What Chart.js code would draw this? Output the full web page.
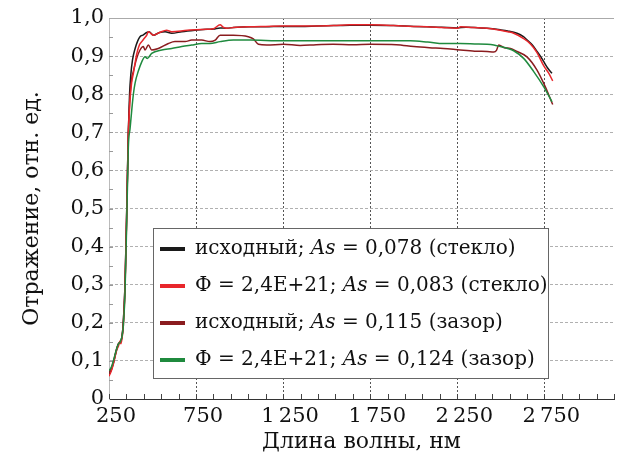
<!DOCTYPE html>
<html>
<head>
<meta charset="utf-8">
<script src="https://cdn.jsdelivr.net/npm/chart.js@4/dist/chart.umd.min.js"></script>
<style>
  body { margin: 0; background: #fff; }
  #wrap { width: 620px; height: 463px; position: relative; }
</style>
</head>
<body>
<div id="wrap"><canvas id="chart"></canvas></div>
<script>
const seriesLabels = [
  "исходный; As = 0,078 (стекло)",
  "Ф = 2,4E+21; As = 0,083 (стекло)",
  "исходный; As = 0,115 (зазор)",
  "Ф = 2,4E+21; As = 0,124 (зазор)",
];
const seriesColors = ["#1a1a1a", "#e8262b", "#8a1c1f", "#1f8a3e"];

// исходный, стекло
const wlBlack = [250, 262, 275, 294, 305, 315, 325, 332, 342, 352, 361, 368, 375, 385, 400, 415, 428, 445, 467, 480,
  505, 540, 572, 610, 668, 744, 790, 850, 888, 926, 964, 1060, 1150, 1242, 1350, 1444, 1540, 1635, 1750, 1884,
  2000, 2076, 2160, 2248, 2300, 2421, 2497, 2540, 2593, 2630, 2650, 2680, 2707, 2730, 2746, 2770, 2794];
const rBlack = [0.065, 0.075, 0.094, 0.13, 0.145, 0.148, 0.165, 0.2, 0.3, 0.5, 0.7, 0.8, 0.85, 0.89, 0.92, 0.94, 0.951, 0.955, 0.962, 0.964,
  0.955, 0.962, 0.964, 0.96, 0.964, 0.968, 0.97, 0.971, 0.974, 0.973, 0.975, 0.977, 0.977, 0.978, 0.978, 0.979, 0.98, 0.981, 0.981, 0.98,
  0.978, 0.977, 0.976, 0.974, 0.976, 0.973, 0.969, 0.966, 0.96, 0.951, 0.943, 0.93, 0.913, 0.898, 0.886, 0.868, 0.855];

// облучённый, стекло
const wlRed = [250, 262, 275, 294, 305, 313, 318, 325, 332, 342, 352, 361, 370, 380, 390, 409, 425, 438, 455, 467,
  476, 505, 540, 581, 610, 700, 790, 850, 888, 905, 926, 964, 1060, 1150, 1242, 1350, 1444, 1540, 1635, 1750,
  1884, 2000, 2076, 2160, 2248, 2270, 2340, 2421, 2497, 2540, 2574, 2631, 2670, 2707, 2746, 2775, 2798];
const rRed = [0.06, 0.072, 0.092, 0.128, 0.14, 0.152, 0.145, 0.16, 0.19, 0.29, 0.49, 0.69, 0.78, 0.83, 0.855, 0.905, 0.93, 0.938, 0.948, 0.955,
  0.964, 0.955, 0.962, 0.968, 0.964, 0.968, 0.97, 0.972, 0.982, 0.976, 0.973, 0.975, 0.977, 0.978, 0.979, 0.979, 0.979, 0.98, 0.982, 0.982,
  0.98, 0.978, 0.977, 0.975, 0.973, 0.977, 0.975, 0.973, 0.968, 0.964, 0.96, 0.946, 0.932, 0.91, 0.875, 0.855, 0.835];

// исходный, зазор
const wlBrown = [250, 262, 275, 294, 305, 315, 325, 332, 342, 352, 361, 370, 380, 390, 409, 428, 447, 457, 476, 495,
  533, 591, 629, 687, 725, 782, 830, 860, 888, 964, 1050, 1079, 1108, 1156, 1252, 1348, 1440, 1537, 1650, 1750,
  1900, 2000, 2090, 2171, 2267, 2350, 2421, 2460, 2475, 2488, 2520, 2555, 2593, 2650, 2707, 2755, 2798];
const rBrown = [0.07, 0.08, 0.096, 0.132, 0.146, 0.15, 0.165, 0.2, 0.3, 0.5, 0.7, 0.79, 0.84, 0.86, 0.894, 0.916, 0.925, 0.916, 0.929, 0.916,
  0.92, 0.933, 0.938, 0.938, 0.942, 0.942, 0.938, 0.942, 0.955, 0.955, 0.951, 0.945, 0.931, 0.929, 0.931, 0.928, 0.93, 0.931, 0.93, 0.931,
  0.93, 0.925, 0.922, 0.92, 0.916, 0.913, 0.912, 0.911, 0.915, 0.929, 0.922, 0.92, 0.912, 0.898, 0.864, 0.82, 0.773];

// облучённый, зазор
const wlGreen = [250, 262, 275, 294, 305, 315, 325, 332, 342, 352, 361, 371, 390, 400, 418, 438, 457, 470, 495, 553,
  610, 668, 725, 783, 830, 888, 964, 1060, 1150, 1252, 1350, 1444, 1600, 1750, 1850, 1980, 2080, 2171, 2267, 2350,
  2421, 2460, 2497, 2540, 2574, 2631, 2688, 2746, 2794];
const rGreen = [0.075, 0.082, 0.1, 0.132, 0.145, 0.15, 0.165, 0.19, 0.28, 0.47, 0.66, 0.71, 0.8, 0.83, 0.86, 0.885, 0.898, 0.894, 0.907, 0.916,
  0.92, 0.925, 0.929, 0.933, 0.933, 0.938, 0.942, 0.942, 0.941, 0.94, 0.94, 0.94, 0.94, 0.94, 0.94, 0.94, 0.937, 0.933, 0.933, 0.932,
  0.931, 0.929, 0.925, 0.92, 0.914, 0.894, 0.86, 0.82, 0.78];

const xTickValues = Array.from({ length: 30 }, (_, i) => 250 + i * 100);
const serif = '"DejaVu Serif", serif';

const seriesWl = [wlBlack, wlRed, wlBrown, wlGreen];
const seriesR = [rBlack, rRed, rBrown, rGreen];
const drawOrder = [4, 2, 3, 1];

const isMajorX = (v) => (v - 250) % 500 === 0;
const isMajorY = (v) => Math.abs(v * 10 - Math.round(v * 10)) < 1e-6;

const fmtX = (v) =>
  v >= 1000 ? Math.floor(v / 1000) + "\u2009" + String(v % 1000).padStart(3, "0") : String(v);

// inward minor ticks and the solid top border
const axisDecor = {
  id: "axisDecor",
  beforeDatasetsDraw(chart) {
    const { ctx, chartArea: a, scales: { x, y } } = chart;
    ctx.save();
    ctx.lineWidth = 1;
    ctx.strokeStyle = "#444";
    x.ticks.forEach(({ value }) => {
      const px = Math.round(x.getPixelForValue(value)) + 0.5;
      ctx.beginPath();
      ctx.moveTo(px, a.bottom);
      ctx.lineTo(px, a.bottom - 5);
      ctx.stroke();
    });
    ctx.strokeStyle = "#999";
    y.ticks.forEach(({ value }) => {
      if (value === 0) return;
      const py = Math.round(y.getPixelForValue(value)) + 0.5;
      ctx.beginPath();
      ctx.moveTo(a.left, py);
      ctx.lineTo(a.left + 4, py);
      ctx.stroke();
    });
    ctx.strokeStyle = "#aaa";
    ctx.beginPath();
    ctx.moveTo(a.left, a.top + 0.5);
    ctx.lineTo(a.right, a.top + 0.5);
    ctx.stroke();
    ctx.restore();
  },
};

const boxLegend = {
  id: "boxLegend",
  afterDraw(chart) {
    const { ctx, chartArea: a } = chart;
    const left = a.left + 44, top = a.top + 210, w = 395, h = 150;
    ctx.save();
    ctx.fillStyle = "#fff";
    ctx.fillRect(left, top, w, h);
    ctx.strokeStyle = "#666";
    ctx.lineWidth = 1;
    ctx.strokeRect(left + 0.5, top + 0.5, w, h);
    ctx.textBaseline = "alphabetic";
    chart.data.datasets.forEach((ds, i) => {
      const y = top + 21 + i * 37;
      ctx.fillStyle = ds.borderColor;
      ctx.fillRect(left + 7, y - 2, 25, 4);
      let x = left + 42;
      ds.label.split(/(As)/).forEach((part) => {
        ctx.font = (part === "As" ? "italic " : "") + "20px " + serif;
        ctx.fillStyle = "#111";
        ctx.fillText(part, x, y + 5);
        x += ctx.measureText(part).width;
      });
    });
    ctx.restore();
  },
};

new Chart(document.getElementById("chart").getContext("2d"), {
  type: "line",
  data: {
    datasets: seriesLabels.map((label, i) => ({
      label,
      data: seriesWl[i].map((wl, j) => ({ x: wl, y: seriesR[i][j] })),
      borderColor: seriesColors[i],
      borderWidth: 1.5,
      pointRadius: 0,
      cubicInterpolationMode: "monotone",
      order: drawOrder[i],
    })),
  },
  options: {
    animation: false,
    responsive: true,
    maintainAspectRatio: false,
    layout: { padding: { top: 18, right: 6, left: 0, bottom: 0 } },
    plugins: { legend: { display: false }, tooltip: { enabled: false } },
    scales: {
      x: {
        type: "linear",
        min: 250,
        max: 3150,
        afterBuildTicks: (scale) => {
          scale.ticks = xTickValues.map((value) => ({ value }));
        },
        afterFit: (scale) => {
          scale.height = 64;
        },
        ticks: {
          autoSkip: false,
          maxRotation: 0,
          padding: 5,
          labelOffset: 7,
          color: "#111",
          font: { family: serif, size: 21 },
          callback: (v) => (isMajorX(v) ? fmtX(v) : ""),
        },
        grid: {
          drawTicks: false,
          color: (c) => (c.tick && isMajorX(c.tick.value) && c.tick.value !== 250 ? "#555" : "transparent"),
          lineWidth: 1,
        },
        border: { display: true, color: "#333", width: 1, dash: [2, 2] },
        title: {
          display: true,
          text: "Длина волны, нм",
          color: "#111",
          font: { family: serif, size: 22 },
          padding: { top: 0, bottom: 8 },
        },
      },
      y: {
        min: 0,
        max: 1,
        afterFit: (scale) => {
          scale.width = 109;
        },
        ticks: {
          stepSize: 0.05,
          autoSkip: false,
          padding: 5,
          color: "#111",
          font: { family: serif, size: 21 },
          callback: (v) => (isMajorY(v) ? (v === 0 ? "0" : v.toFixed(1).replace(".", ",")) : ""),
        },
        grid: {
          drawTicks: false,
          color: (c) => {
            const v = c.tick ? c.tick.value : 0;
            return isMajorY(v) && v > 0 && v < 1 ? "#b0b0b0" : "transparent";
          },
          lineWidth: 1,
        },
        border: { display: true, color: "#bbb", width: 1, dash: [3, 2] },
        title: {
          display: true,
          text: "Отражение, отн. ед.",
          color: "#111",
          font: { family: serif, size: 22 },
          padding: { top: 19, bottom: 0 },
        },
      },
    },
  },
  plugins: [axisDecor, boxLegend],
});
</script>
</body>
</html>
